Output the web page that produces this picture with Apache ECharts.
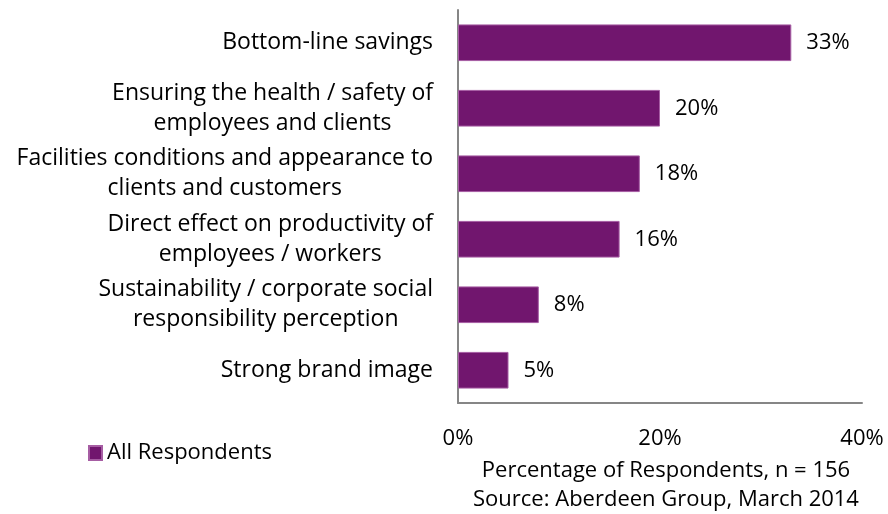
<!DOCTYPE html>
<html><head><meta charset="utf-8">
<script src="https://cdn.jsdelivr.net/npm/echarts@6/dist/echarts.min.js"></script>
<style>html,body{margin:0;padding:0;background:#fff}#c{width:888px;height:514px}</style>
</head><body><div id="c"></div>
<script>
const categories = [
  "Bottom-line savings",
  "Ensuring the health / safety of\nemployees and clients",
  "Facilities conditions and appearance to\nclients and customers",
  "Direct effect on productivity of\nemployees / workers",
  "Sustainability / corporate social\nresponsibility perception",
  "Strong brand image"
];
const values = [33, 20, 18, 16, 8, 5];
const seriesName = "All Respondents";
const xTicks = [0, 20, 40];
const xTitle = "Percentage of Respondents, n = 156\nSource: Aberdeen Group, March 2014";

const FONT = 'Open Sans';
const FS = 23;
const chart = echarts.init(document.getElementById('c'));
chart.setOption({
  animation: false,
  textStyle: {fontFamily: FONT},
  legend: {
    left: 83, top: 437, itemWidth: 13, itemHeight: 14, itemGap: 6,
    icon: 'rect',
    textStyle: {fontFamily: FONT, fontSize: 22, color: '#000'},
    data: [seriesName]
  },
  grid: {left: 458, right: 26, top: 10, bottom: 111, containLabel: false, outerBoundsMode: 'none'},
  xAxis: {
    type: 'value', min: xTicks[0], max: xTicks[xTicks.length-1], interval: 20,
    splitLine: {show: false},
    axisLine: {show: true, lineStyle: {color: '#868686', width: 2}},
    axisTick: {show: false},
    axisLabel: {fontFamily: FONT, fontSize: 22, color: '#000', margin: 25, formatter: v => v + '%'},
    name: xTitle, nameLocation: 'middle', nameGap: 53,
    nameTextStyle: {fontFamily: FONT, fontSize: 22, color: '#000', lineHeight: 29, padding: [0,0,0,12]}
  },
  yAxis: {
    type: 'category', data: categories, inverse: true,
    axisLine: {show: true, lineStyle: {color: '#868686', width: 2}},
    axisTick: {show: false},
    axisLabel: {
      fontFamily: FONT, fontSize: FS, color: '#000', margin: 25, lineHeight: 30,
      formatter: s => s.split('\n').map(l => '{c|' + l + '}').join('\n'),
      rich: {c: {align: 'center', fontFamily: FONT, fontSize: FS, color: '#000', lineHeight: 30}}
    }
  },
  series: [{
    name: seriesName, type: 'bar', data: values, barWidth: '56%',
    itemStyle: {color: '#71166E', borderColor: '#A65DA3', borderWidth: 1},
    label: {show: true, position: 'right', distance: 15, formatter: p => p.value + '%',
      fontFamily: FONT, fontSize: 22, color: '#000'}
  }]
});
</script></body></html>
